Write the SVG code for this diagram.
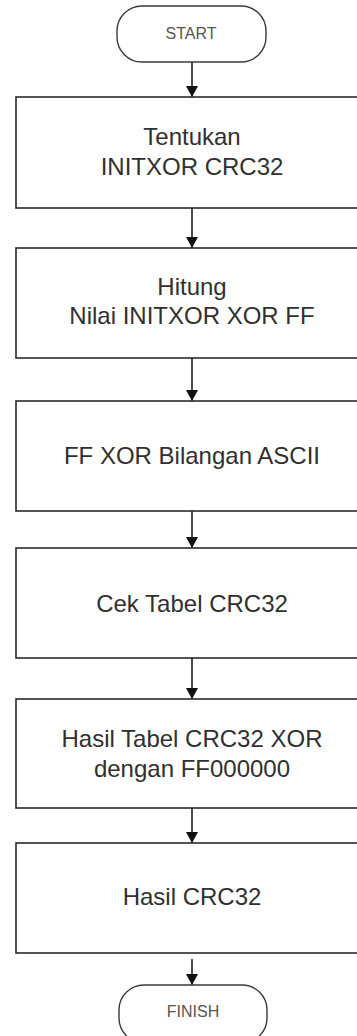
<svg xmlns="http://www.w3.org/2000/svg" width="357" height="1036" viewBox="0 0 357 1036">
  <style>
    .box { fill: #ffffff; stroke: #2a2a2a; stroke-width: 1.6; }
    .term { fill: #ffffff; stroke: #3a3a3a; stroke-width: 1.4; }
    .lbl { font-family: "Liberation Sans", Arial, sans-serif; font-size: 24px; fill: #303030; text-anchor: middle; }
    .tlbl { font-family: "Liberation Sans", Arial, sans-serif; font-size: 16px; fill: #555555; text-anchor: middle; }
    .conn { stroke: #111111; stroke-width: 1.5; fill: none; marker-end: url(#arrow); }
  </style>
  <defs>
    <marker id="arrow" viewBox="0 0 11 12" refX="11" refY="6" markerWidth="11" markerHeight="12" markerUnits="userSpaceOnUse" orient="auto">
      <path d="M0,0 L11,6 L0,12 Z" fill="#111111"/>
    </marker>
  </defs>
  <rect width="357" height="1036" fill="#ffffff"/>

  <g id="connectors">
    <line class="conn" x1="192" y1="62" x2="192" y2="97"/>
    <line class="conn" x1="192" y1="208" x2="192" y2="248"/>
    <line class="conn" x1="192" y1="358" x2="192" y2="401"/>
    <line class="conn" x1="192" y1="511" x2="192" y2="548"/>
    <line class="conn" x1="192" y1="658" x2="192" y2="699"/>
    <line class="conn" x1="192" y1="808" x2="192" y2="843"/>
    <line class="conn" x1="192" y1="959" x2="192" y2="985"/>
  </g>

  <g id="start">
    <rect class="term" x="117" y="6" width="149" height="56" rx="25" ry="25"/>
    <text class="tlbl" x="191" y="39">START</text>
  </g>

  <g id="step1">
    <rect class="box" x="16" y="97" width="352" height="111"/>
    <text class="lbl" x="192" y="145">Tentukan</text>
    <text class="lbl" x="192" y="175">INITXOR CRC32</text>
  </g>

  <g id="step2">
    <rect class="box" x="16" y="248" width="352" height="110"/>
    <text class="lbl" x="192" y="295">Hitung</text>
    <text class="lbl" x="192" y="324">Nilai INITXOR XOR FF</text>
  </g>

  <g id="step3">
    <rect class="box" x="16" y="401" width="352" height="110"/>
    <text class="lbl" x="192" y="464">FF XOR Bilangan ASCII</text>
  </g>

  <g id="step4">
    <rect class="box" x="16" y="548" width="352" height="110"/>
    <text class="lbl" x="192" y="612">Cek Tabel CRC32</text>
  </g>

  <g id="step5">
    <rect class="box" x="16" y="699" width="352" height="109"/>
    <text class="lbl" x="192" y="747">Hasil Tabel CRC32 XOR</text>
    <text class="lbl" x="192" y="777">dengan FF000000</text>
  </g>

  <g id="step6">
    <rect class="box" x="16" y="843" width="352" height="110"/>
    <text class="lbl" x="192" y="905">Hasil CRC32</text>
  </g>

  <g id="finish">
    <rect class="term" x="119" y="985" width="148" height="58" rx="25" ry="25"/>
    <text class="tlbl" x="193" y="1017">FINISH</text>
  </g>
</svg>
